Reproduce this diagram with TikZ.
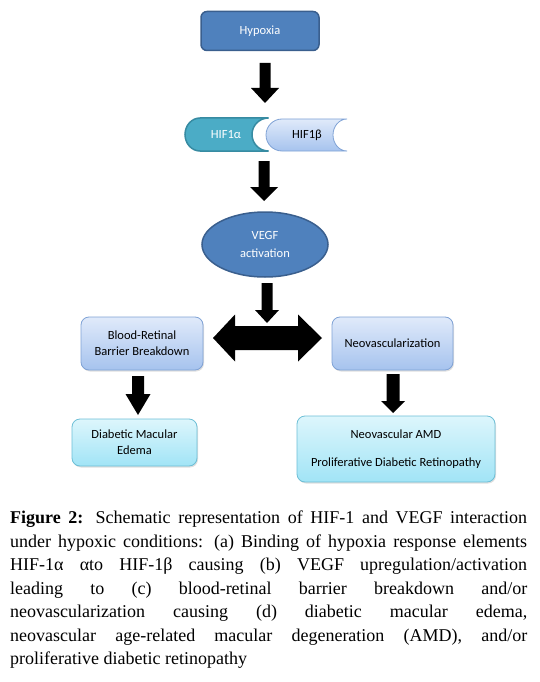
\documentclass[tikz,border=0pt]{standalone}
\usepackage{fontspec}
\setmainfont{Liberation Serif}
\newfontfamily\diafont{Carlito}
\usetikzlibrary{shapes.geometric,shadows}

\definecolor{darkblue}{HTML}{4F81BD}
\definecolor{darkblueline}{HTML}{3A5F8E}
\definecolor{tealfill}{HTML}{4BACC6}
\definecolor{tealline}{HTML}{378BA2}
\definecolor{lbtop}{HTML}{E0EAFA}
\definecolor{lbbot}{HTML}{A6C3EE}
\definecolor{lbline}{HTML}{7FA2D5}
\definecolor{cytop}{HTML}{DDF6FC}
\definecolor{cybot}{HTML}{A1E4F6}
\definecolor{cyline}{HTML}{6DBFD6}

% block arrow pointing down: start, shaft half width, shaft length, head half width, head length
\newcommand{\blockdown}[5]{\fill (#1) ++(-#2,0) -- ++(0,#3) -- ++({#2-#4},0) -- ++(#4,#5) -- ++(#4,-#5) -- ++({#2-#4},0) -- ++(0,-#3) -- cycle;}

\tikzset{
    darkbox/.style={rounded corners=6pt,fill=darkblue,draw=darkblueline,line width=1.5pt,text=white,inner sep=0pt},
    lightbox/.style={rounded corners=8pt,top color=lbtop,bottom color=lbbot,draw=lbline,line width=0.8pt,align=center,inner sep=0pt,
        drop shadow={opacity=0.25,shadow xshift=1pt,shadow yshift=-1.5pt}},
    cyanbox/.style={rounded corners=8pt,top color=cytop,bottom color=cybot,draw=cyline,line width=0.8pt,align=center,inner sep=0pt,
        drop shadow={opacity=0.25,shadow xshift=1pt,shadow yshift=-1.5pt}},
}

\begin{document}
\begin{tikzpicture}[x=1pt,y=-1pt,font=\diafont\fontsize{12.5}{16}\selectfont]
    \useasboundingbox (0,0) rectangle (540,682);

    \node[darkbox,minimum width=118pt,minimum height=39pt](hyp)at(260,31){Hypoxia};

    % HIF1 alpha / beta pieces
    \path[draw=tealline,fill=tealfill,line width=1.5pt] (200,118) -- (268.5,118) arc[start angle=270,end angle=90,radius=16.5]
        -- (200,151) arc[start angle=90,end angle=270,x radius=15,y radius=16.5] -- cycle;
    \path[draw=lbline,top color=lbtop,bottom color=lbbot,line width=0.8pt] (282,119) -- (347,119) arc[start angle=270,end angle=90,x radius=14,y radius=16]
        -- (282,151) arc[start angle=90,end angle=270,radius=16] -- cycle;
    \node[text=white](hifa)at(226,134.5){HIF1α};
    \node(hifb)at(307,135){HIF1β};

    \node[ellipse,fill=darkblue,draw=darkblueline,line width=1.5pt,minimum width=126pt,minimum height=65pt,inner sep=0pt,text=white,align=center,
        font=\diafont\fontsize{12.5}{18}\selectfont](vegf)at(265,244.5){VEGF\\activation};

    \node[lightbox,minimum width=122pt,minimum height=53pt](brb)at(142,343.5){Blood-Retinal\\Barrier Breakdown};
    \node[lightbox,minimum width=121pt,minimum height=53pt](neo)at(392.5,343.5){Neovascularization};
    \node[cyanbox,minimum width=125pt,minimum height=47pt](dme)at(134.5,442.5){Diabetic Macular\\Edema};
    \node[cyanbox,minimum width=198pt,minimum height=66pt](amd)at(396,449){Neovascular AMD\\[12pt]Proliferative Diabetic Retinopathy};

    % block arrows
    \coordinate (a1) at (265,63);
    \coordinate (a2) at (264,161);
    \coordinate (a3) at (267,283);
    \coordinate (a4) at (138,376);
    \coordinate (a5) at (393,374);
    \blockdown{a1}{5.5}{25}{14}{15}
    \blockdown{a2}{5.5}{26}{14}{14}
    \blockdown{a3}{5.5}{27}{12}{13}
    \blockdown{a4}{6}{18}{12.5}{21}
    \blockdown{a5}{6.5}{27}{12}{12}
    \fill (213,338) -- (235,314.5) -- (235,326) -- (298,326) -- (298,314.5) -- (322,338)
        -- (298,361.5) -- (298,350) -- (235,350) -- (235,361.5) -- cycle;

    \node[anchor=north west,inner sep=0pt,text width=517pt,align=justify,
        font=\fontsize{18}{23.5}\selectfont](cap)at(10,511){\textbf{Figure 2:} Schematic representation of HIF-1 and VEGF interaction\linebreak
        under hypoxic conditions: (a) Binding of hypoxia response elements\linebreak
        HIF-1α αto HIF-1β causing (b) VEGF upregulation/activation\linebreak
        leading to (c) blood-retinal barrier breakdown and/or\linebreak
        neovascularization causing (d) diabetic macular edema,\linebreak
        neovascular age-related macular degeneration (AMD), and/or\linebreak
        proliferative diabetic retinopathy};
\end{tikzpicture}
\end{document}
